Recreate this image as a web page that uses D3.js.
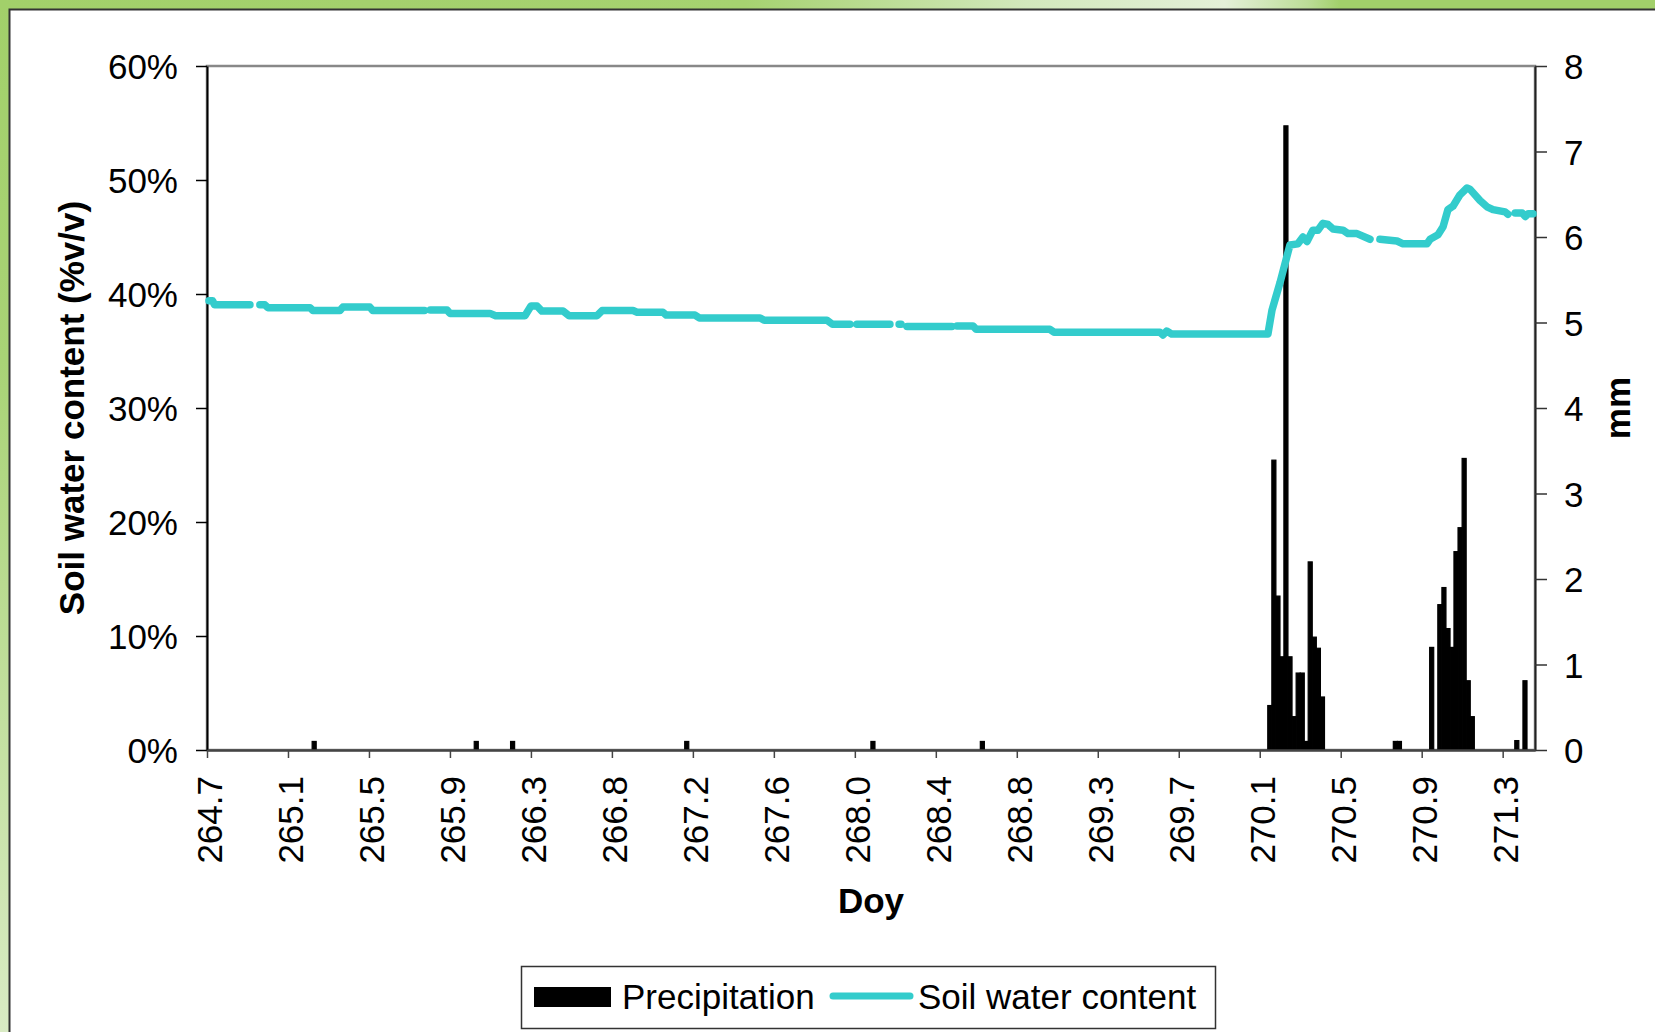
<!DOCTYPE html>
<html lang="en">
<head>
<meta charset="utf-8">
<title>Soil water content and precipitation</title>
<style>
body { margin: 0; background: #fff; }
svg { display: block; font-family: "Liberation Sans", Arial, sans-serif; }
.axis text { font-size: 35px; fill: #000; font-family: "Liberation Sans", Arial, sans-serif; }
.title { font-size: 35px; font-weight: bold; }
.legend text { font-size: 35px; }
</style>
</head>
<body>
<svg width="1655" height="1032"></svg>
<script src="https://cdn.jsdelivr.net/npm/d3@7"></script>
<script>

// half-hourly records, day of year
const DAY_START = 264.667;
const DAY_END = 271.5;
const SLOT = 1 / 48;
const SLOTS_PER_TICK = 20;

const xTickLabels = ['264.7', '265.1', '265.5', '265.9', '266.3', '266.8', '267.2',
  '267.6', '268.0', '268.4', '268.8', '269.3', '269.7', '270.1', '270.5', '270.9', '271.3'];
const swcTicks = [0, 0.1, 0.2, 0.3, 0.4, 0.5, 0.6];
const mmTicks = [0, 1, 2, 3, 4, 5, 6, 7, 8];

// precipitation (mm), only the non-zero half hours
const rainDays = [265.208, 266.042, 266.229, 267.125, 268.083, 268.646,
  270.125, 270.146, 270.167, 270.188, 270.208, 270.229, 270.25, 270.271, 270.292,
  270.313, 270.333, 270.354, 270.375, 270.396,
  270.771, 270.792, 270.958, 271.0, 271.021, 271.042, 271.063, 271.083, 271.104,
  271.125, 271.146, 271.167, 271.396, 271.438];
const rainMm = [0.1, 0.1, 0.1, 0.1, 0.1, 0.1,
  0.52, 3.39, 1.8, 1.09, 7.3, 1.09, 0.39, 0.9, 0.9,
  0.1, 2.2, 1.32, 1.19, 0.62,
  0.1, 0.1, 1.2, 1.7, 1.9, 1.42, 1.2, 2.32, 2.6,
  3.41, 0.81, 0.39, 0.11, 0.81];

// soil water content (%v/v), null = missing record
const swcDays = [264.677, 264.696, 264.706, 264.888, 264.91,
  264.939, 264.965, 264.98, 265.197, 265.212, 265.351, 265.366, 265.505, 265.52, 265.786, 265.80,
  265.816, 265.902, 265.917, 266.123, 266.152, 266.303, 266.334, 266.365, 266.39, 266.499,
  266.53, 266.674, 266.70, 266.859, 266.88, 267.013, 267.03, 267.178, 267.20, 267.513,
  267.534, 267.857, 267.885, 267.975, 267.99,
  268.011, 268.181, 268.20,
  268.228, 268.238, 268.25,
  268.269, 268.50, 268.51,
  268.526, 268.608, 268.625, 269.004, 269.025, 269.57, 269.586, 269.605, 269.63, 270.126,
  270.147, 270.188, 270.239, 270.28, 270.306, 270.327, 270.357, 270.383, 270.409, 270.435,
  270.461, 270.512, 270.538, 270.584, 270.651, 270.67,
  270.702, 270.79, 270.821, 270.944, 270.96, 271.001, 271.027, 271.052, 271.078, 271.114,
  271.15, 271.165, 271.217, 271.253, 271.284, 271.346, 271.361, 271.38,
  271.398, 271.434, 271.45, 271.465, 271.49];
const swcPct = [39.4, 39.4, 39.05, 39.05, null,
  39.05, 39.05, 38.8, 38.8, 38.55, 38.55, 38.85, 38.85, 38.55, 38.55, null,
  38.6, 38.6, 38.3, 38.3, 38.1, 38.1, 38.95, 38.95, 38.5, 38.5,
  38.1, 38.1, 38.55, 38.55, 38.4, 38.4, 38.15, 38.15, 37.9, 37.9,
  37.7, 37.7, 37.35, 37.35, null,
  37.35, 37.35, null,
  37.35, 37.35, null,
  37.15, 37.15, null,
  37.2, 37.2, 36.9, 36.9, 36.65, 36.65, 36.4, 36.75, 36.5, 36.5,
  38.6, 41.0, 44.3, 44.4, 45.0, 44.6, 45.6, 45.6, 46.2, 46.1,
  45.7, 45.6, 45.3, 45.3, 44.8, null,
  44.8, 44.65, 44.4, 44.4, 44.8, 45.2, 45.9, 47.4, 47.7, 48.7,
  49.3, 49.2, 48.2, 47.65, 47.4, 47.2, 47.0, null,
  47.1, 47.1, 46.8, 47.05, 47.05];

const svg = d3.select('svg');
const W = +svg.attr('width'), H = +svg.attr('height');
const plot = {left: 207, top: 66, right: 1535, bottom: 750};

// frame: green border strips
const defs = svg.append('defs');
const gLeft = defs.append('linearGradient').attr('id', 'gLeft')
  .attr('x1', 0).attr('y1', 0).attr('x2', 0).attr('y2', 1);
gLeft.append('stop').attr('offset', 0).attr('stop-color', '#a2d06a');
gLeft.append('stop').attr('offset', 0.35).attr('stop-color', '#a9d376');
gLeft.append('stop').attr('offset', 1).attr('stop-color', '#d9ebc4');
const gTop = defs.append('linearGradient').attr('id', 'gTop')
  .attr('x1', 0).attr('y1', 0).attr('x2', 1).attr('y2', 0);
[[0, '#a2d06a'], [0.45, '#a6d270'], [0.62, '#d2e8bc'], [0.74, '#e4f0d8'],
 [0.79, '#bcdd98'], [0.81, '#a2d06a'], [1, '#a2d06a']].forEach(s =>
  gTop.append('stop').attr('offset', s[0]).attr('stop-color', s[1]));

svg.append('rect').attr('width', W).attr('height', H).attr('fill', 'url(#gLeft)');
svg.append('rect').attr('width', W).attr('height', 10).attr('fill', 'url(#gTop)');
svg.append('rect').attr('x', 9.5).attr('y', 9.5)
  .attr('width', W).attr('height', H)
  .attr('fill', '#fff').attr('stroke', '#333').attr('stroke-width', 2);

// scales
const x = d3.scaleLinear().domain([DAY_START, DAY_END]).range([plot.left, plot.right]);
const y = d3.scaleLinear().domain([0, 0.6]).range([plot.bottom, plot.top]);
const y2 = d3.scaleLinear().domain([0, 8]).range([plot.bottom, plot.top]);

// plot area border
svg.append('rect')
  .attr('x', plot.left).attr('y', plot.top)
  .attr('width', plot.right - plot.left).attr('height', plot.bottom - plot.top)
  .attr('fill', 'none').attr('stroke', '#888').attr('stroke-width', 2.5);

// precipitation bars
const rain = rainDays.map((d, i) => ({day: d, mm: rainMm[i]}));
svg.append('g')
  .selectAll('rect')
  .data(rain)
  .enter().append('rect')
    .attr('x', d => x(d.day))
    .attr('width', d => x(d.day + SLOT) - x(d.day))
    .attr('y', d => y2(d.mm))
    .attr('height', d => y2(0) - y2(d.mm))
    .attr('fill', '#000')
    .attr('stroke', '#000')
    .attr('stroke-width', 1.2);

// axes
const left = svg.append('g')
  .attr('class', 'axis')
  .attr('transform', 'translate(' + plot.left + ',0)')
  .call(d3.axisLeft(y).tickValues(swcTicks).tickFormat(d3.format('.0%'))
    .tickSize(11).tickSizeOuter(0).tickPadding(18));
left.select('.domain').attr('stroke', '#000').attr('stroke-width', 2);
left.selectAll('.tick line').attr('stroke', '#000').attr('stroke-width', 1.5);
left.selectAll('.tick text').attr('dy', '0.36em');

const right = svg.append('g')
  .attr('class', 'axis')
  .attr('transform', 'translate(' + plot.right + ',0)')
  .call(d3.axisRight(y2).tickValues(mmTicks)
    .tickSize(12).tickSizeOuter(0).tickPadding(17));
right.select('.domain').attr('stroke', '#222').attr('stroke-width', 2);
right.selectAll('.tick line').attr('stroke', '#333').attr('stroke-width', 1.5);
right.selectAll('.tick text').attr('dy', '0.36em');

const tickDays = xTickLabels.map((t, i) => DAY_START + i * SLOTS_PER_TICK * SLOT);
const half = x(DAY_START + SLOT / 2) - x(DAY_START);
const bottom = svg.append('g')
  .attr('class', 'axis')
  .attr('transform', 'translate(0,' + plot.bottom + ')')
  .call(d3.axisBottom(x).tickValues(tickDays).tickFormat((d, i) => xTickLabels[i])
    .tickSize(8).tickSizeOuter(0));
bottom.select('.domain').attr('stroke', '#444').attr('stroke-width', 2.5);
bottom.selectAll('.tick line').attr('stroke', '#444').attr('stroke-width', 1.5);
bottom.selectAll('.tick text')
  .attr('y', null).attr('dy', '0.36em')
  .attr('text-anchor', 'end')
  .attr('transform', 'translate(' + half + ',26) rotate(-90)');

// soil water content line
const swc = swcDays.map((d, i) => ({day: d, v: swcPct[i]}));
const line = d3.line()
  .defined(d => d.v != null)
  .x(d => x(d.day))
  .y(d => y(d.v / 100));
svg.append('path')
  .datum(swc)
  .attr('d', line)
  .attr('fill', 'none')
  .attr('stroke', '#33cccc')
  .attr('stroke-width', 7.5)
  .attr('stroke-linecap', 'round')
  .attr('stroke-linejoin', 'round');

// titles
svg.append('text').attr('class', 'title')
  .attr('transform', 'translate(71,' + ((plot.top + plot.bottom) / 2) + ') rotate(-90)')
  .attr('text-anchor', 'middle').attr('dy', '0.36em')
  .text('Soil water content (%v/v)');
svg.append('text').attr('class', 'title')
  .attr('transform', 'translate(1617,' + ((plot.top + plot.bottom) / 2) + ') rotate(-90)')
  .attr('text-anchor', 'middle').attr('dy', '0.36em')
  .text('mm');
svg.append('text').attr('class', 'title')
  .attr('x', (plot.left + plot.right) / 2).attr('y', 913)
  .attr('text-anchor', 'middle')
  .text('Doy');

// legend
const legend = svg.append('g').attr('class', 'legend');
legend.append('rect')
  .attr('x', 521.5).attr('y', 966.5).attr('width', 694).attr('height', 62)
  .attr('fill', '#fff').attr('stroke', '#333').attr('stroke-width', 1.5);
legend.append('rect')
  .attr('x', 534).attr('y', 987).attr('width', 77).attr('height', 20)
  .attr('fill', '#000');
legend.append('text').attr('x', 622).attr('y', 1008.5).text('Precipitation');
legend.append('line')
  .attr('x1', 833).attr('x2', 910).attr('y1', 996).attr('y2', 996)
  .attr('stroke', '#33cccc').attr('stroke-width', 7).attr('stroke-linecap', 'round');
legend.append('text').attr('x', 918).attr('y', 1008.5).text('Soil water content');

</script>
</body>
</html>
